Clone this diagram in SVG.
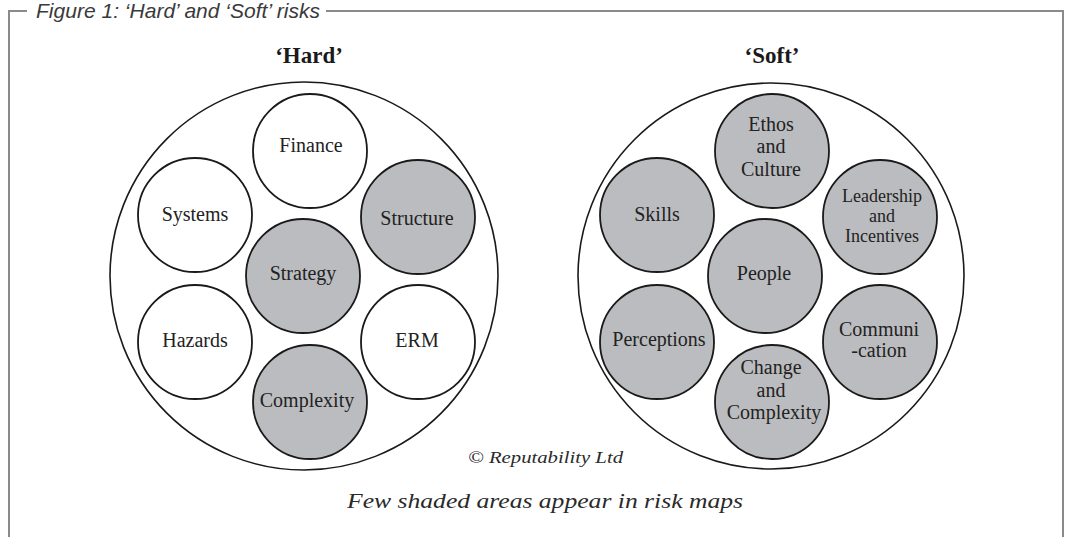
<svg xmlns="http://www.w3.org/2000/svg" width="1070" height="537" viewBox="0 0 1070 537">
<style>
.frame{fill:none;stroke:#8a8a8a;stroke-width:2}
.outer{fill:#fff;stroke:#1a1a1a;stroke-width:1.6}
.w{fill:#fff;stroke:#1a1a1a;stroke-width:1.8}
.g{fill:#bbbcbf;stroke:#1a1a1a;stroke-width:1.8}
.lbl{font-family:"Liberation Serif","Times New Roman",serif;font-size:20px;fill:#222;text-anchor:middle}
.sm{font-size:18px}
.ttl{font-family:"Liberation Serif","Times New Roman",serif;font-size:23px;font-weight:bold;fill:#1a1a1a;text-anchor:middle}
.it{font-family:"Liberation Serif","Times New Roman",serif;font-style:italic;fill:#2a2a2a}
</style>
<rect width="1070" height="537" fill="#fff"/>
<g id="frame">
<polyline class="frame" points="27,11 9,11 9,537"/>
<polyline class="frame" points="326,11 1063,11 1063,537"/>
<text x="36" y="18" font-family="'Liberation Sans',Arial,sans-serif" font-style="italic" font-size="21" fill="#3a3a3a" textLength="284" lengthAdjust="spacingAndGlyphs">Figure 1: ‘Hard’ and ‘Soft’ risks</text>
</g>
<g id="hard">
<text class="ttl" x="309" y="63">‘Hard’</text>
<circle class="outer" cx="304" cy="276" r="194"/>
<g id="finance"><circle class="w" cx="310" cy="151" r="57"/><text class="lbl" x="311" y="152">Finance</text></g>
<g id="systems"><circle class="w" cx="195" cy="215" r="57"/><text class="lbl" x="195" y="221">Systems</text></g>
<g id="structure"><circle class="g" cx="418" cy="217" r="57"/><text class="lbl" x="417" y="225">Structure</text></g>
<g id="strategy"><circle class="g" cx="303" cy="276" r="57"/><text class="lbl" x="303" y="280">Strategy</text></g>
<g id="hazards"><circle class="w" cx="195" cy="342" r="57"/><text class="lbl" x="195" y="347">Hazards</text></g>
<g id="erm"><circle class="w" cx="418" cy="342" r="57"/><text class="lbl" x="417" y="347">ERM</text></g>
<g id="complexity"><circle class="g" cx="310" cy="402" r="57"/><text class="lbl" x="307" y="407">Complexity</text></g>
</g>
<g id="soft">
<text class="ttl" x="772" y="63">‘Soft’</text>
<circle class="outer" cx="771" cy="276" r="193"/>
<g id="ethos"><circle class="g" cx="772" cy="151" r="57"/><text class="lbl" x="771" y="131">Ethos</text><text class="lbl" x="771" y="153">and</text><text class="lbl" x="771" y="176">Culture</text></g>
<g id="skills"><circle class="g" cx="657" cy="215" r="57"/><text class="lbl" x="657" y="221">Skills</text></g>
<g id="leadership"><circle class="g" cx="880" cy="217" r="57"/><text class="lbl sm" x="882" y="202">Leadership</text><text class="lbl sm" x="882" y="222">and</text><text class="lbl sm" x="882" y="242">Incentives</text></g>
<g id="people"><circle class="g" cx="765" cy="276" r="57"/><text class="lbl" x="764" y="280">People</text></g>
<g id="perceptions"><circle class="g" cx="657" cy="342" r="57"/><text class="lbl" x="659" y="346">Perceptions</text></g>
<g id="communication"><circle class="g" cx="880" cy="342" r="57"/><text class="lbl" x="879" y="336">Communi</text><text class="lbl" x="879" y="357">-cation</text></g>
<g id="change"><circle class="g" cx="772" cy="402" r="57"/><text class="lbl" x="771" y="374">Change</text><text class="lbl" x="771" y="397">and</text><text class="lbl" x="774" y="419">Complexity</text></g>
</g>
<g id="connectors"></g>
<text class="it" x="468" y="463" font-size="17" textLength="155" lengthAdjust="spacingAndGlyphs">© Reputability Ltd</text>
<text class="it" x="347" y="508" font-size="22" textLength="396" lengthAdjust="spacingAndGlyphs">Few shaded areas appear in risk maps</text>
</svg>
